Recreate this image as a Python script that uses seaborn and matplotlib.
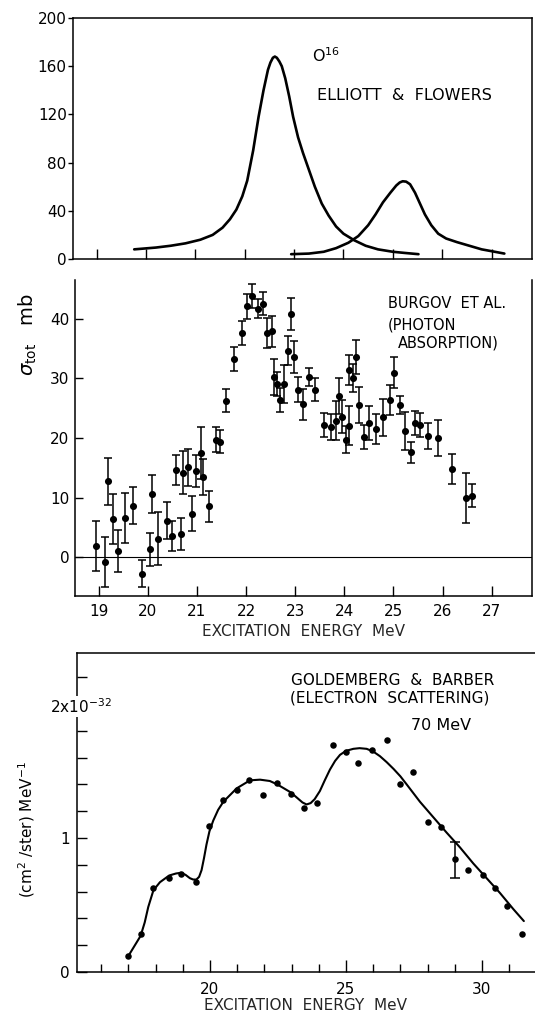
import numpy as np
import pandas as pd
import matplotlib
matplotlib.use("Agg")
import matplotlib.pyplot as plt
from matplotlib.ticker import MultipleLocator, FixedLocator
import seaborn as sns

# ---------------- data ----------------
# Top panel: Elliott & Flowers theoretical curves (E in MeV, sigma in mb)
ef1_e = [19.76, 20.2, 20.5, 20.8, 21.1, 21.35, 21.55, 21.7, 21.83, 21.95, 22.05, 22.17,
         22.28, 22.38, 22.47, 22.52, 22.57, 22.61, 22.65, 22.7, 22.75, 22.82, 22.9, 22.98, 23.08,
         23.18, 23.3, 23.42, 23.56, 23.7, 23.85, 24.0, 24.22, 24.45, 24.7, 25.0, 25.25, 25.52]
ef1_s = [8, 9.5, 11, 13, 16, 20, 26, 33, 41, 52, 65, 90,
         118, 140, 157, 163, 167, 168, 167, 164, 160, 150, 135, 118, 101,
         88, 74, 60, 46, 36, 27, 21, 15.5, 11, 8, 6, 5, 4]
ef2_e = [22.94, 23.3, 23.6, 23.85, 24.1, 24.3, 24.5, 24.65, 24.8, 24.95, 25.07, 25.14, 25.2,
         25.27, 25.35, 25.45, 25.55, 25.65, 25.78, 25.92, 26.08, 26.3, 26.55, 26.8, 27.0, 27.26]
ef2_s = [4, 4.5, 6, 9, 13.5, 19, 28, 37, 47, 55, 61, 63.5, 64.5,
         64.2, 62, 55, 46, 37, 28, 21, 17, 14, 11, 8, 6.5, 4.5]

# Middle panel: Burgov et al. photon absorption (E MeV, sigma_tot mb, error mb)
bur_e = [18.95, 19.13, 19.19, 19.29, 19.39, 19.54, 19.70, 19.89, 20.04, 20.09, 20.21, 20.39,
         20.50, 20.58, 20.68, 20.72, 20.82, 20.91, 20.99, 21.08, 21.12, 21.25, 21.38, 21.48,
         21.60, 21.75, 21.92, 22.03, 22.13, 22.25, 22.35, 22.42, 22.53, 22.56, 22.64, 22.69,
         22.77, 22.86, 22.92, 22.98, 23.06, 23.16, 23.28, 23.40, 23.59, 23.72, 23.83, 23.89,
         23.96, 24.03, 24.09, 24.10, 24.18, 24.23, 24.30, 24.40, 24.50, 24.64, 24.79, 24.94,
         25.02, 25.14, 25.24, 25.35, 25.44, 25.55, 25.71, 25.91, 26.20, 26.47, 26.60]
bur_s = [1.8, -0.9, 12.7, 6.4, 1.0, 6.5, 8.6, -2.8, 1.3, 10.6, 3.1, 6.1,
         3.5, 14.6, 3.8, 14.2, 15.1, 7.3, 14.4, 17.5, 13.4, 8.5, 19.7, 19.4,
         26.3, 33.3, 37.6, 42.1, 43.8, 41.7, 42.6, 37.6, 37.9, 30.3, 29.1, 26.4,
         29.0, 34.7, 40.9, 33.6, 28.1, 25.7, 30.2, 28.1, 22.2, 21.8, 22.9, 27.0,
         23.6, 19.7, 31.4, 22.1, 30.1, 33.6, 25.6, 20.2, 22.5, 21.5, 23.5, 26.4,
         31.0, 25.5, 21.1, 17.6, 22.5, 22.2, 20.3, 20.0, 14.8, 9.9, 10.3]
bur_err = [4.2, 4.2, 4.0, 4.2, 3.5, 4.2, 3.1, 2.3, 2.8, 3.2, 4.5, 3.1,
           2.5, 2.5, 2.7, 3.6, 3.1, 3.0, 2.7, 4.4, 3.0, 2.6, 2.1, 2.0,
           2.0, 2.0, 2.0, 2.1, 2.0, 1.6, 2.0, 2.5, 2.6, 3.0, 2.0, 2.0,
           3.2, 2.4, 2.7, 2.7, 2.1, 2.6, 1.5, 1.9, 2.0, 2.2, 3.3, 3.0,
           2.8, 2.3, 2.5, 3.2, 2.4, 2.8, 3.0, 2.0, 2.8, 2.5, 3.1, 2.5,
           2.6, 1.5, 3.2, 1.8, 2.0, 2.0, 2.2, 3.1, 2.5, 4.2, 1.9]

# Bottom panel: Goldemberg & Barber electron scattering, 70 MeV (units of 1e-32)
gb_e = [17.0, 17.45, 17.92, 18.49, 18.92, 19.49, 19.97, 20.49, 20.98, 21.45, 21.96, 22.47,
        22.97, 23.47, 23.94, 24.53, 24.99, 25.45, 25.94, 26.5, 26.99, 27.45, 28.0, 28.49,
        29.0, 29.5, 30.02, 30.49, 30.93, 31.49]
gb_v = [0.117, 0.286, 0.63, 0.70, 0.73, 0.67, 1.09, 1.28, 1.36, 1.43, 1.32, 1.41,
        1.33, 1.22, 1.26, 1.69, 1.64, 1.56, 1.66, 1.73, 1.40, 1.49, 1.12, 1.08,
        0.84, 0.76, 0.72, 0.63, 0.49, 0.28]
gb_err_e = [29.0]
gb_err_v = [0.835]
gb_err_d = [0.135]
gb_curve_e = [17.0, 17.45, 17.6, 17.73, 17.92, 18.16, 18.5, 18.75, 18.93, 19.1, 19.26, 19.38,
              19.5, 19.6, 19.69, 19.78, 19.87, 19.98, 20.12, 20.3,
              20.49, 20.98, 21.47, 21.84, 22.2, 22.47, 22.97, 23.2, 23.4, 23.55, 23.7, 23.85,
              24.04, 24.22, 24.41, 24.6, 24.78, 25.0, 25.27, 25.5, 25.76, 26.0, 26.25, 26.5,
              26.75, 27.0, 27.23, 27.72, 28.21, 28.7, 29.19, 29.68,
              30.17, 30.66, 31.15, 31.54]
gb_curve_v = [0.12, 0.27, 0.37, 0.485, 0.61, 0.67, 0.72, 0.735, 0.74, 0.725, 0.70, 0.69,
              0.69, 0.71, 0.76, 0.85, 0.95, 1.05, 1.13, 1.21,
              1.27, 1.37, 1.43, 1.435, 1.425, 1.40, 1.34, 1.30, 1.265, 1.25, 1.26, 1.29,
              1.35, 1.43, 1.51, 1.575, 1.62, 1.65, 1.665, 1.67, 1.665, 1.645, 1.61, 1.565,
              1.515, 1.46, 1.40, 1.27, 1.155, 1.04, 0.93, 0.81,
              0.70, 0.59, 0.47, 0.38]

top_yticks = [0, 40, 80, 120, 160, 200]
mid_yticks = [0, 10, 20, 30, 40]
mid_xticks = [19, 20, 21, 22, 23, 24, 25, 26, 27]
bot_xmajor = [20, 25, 30]

# ---------------- styling ----------------
sns.set_theme(style="ticks")
plt.rcParams['font.family'] = ['DejaVu Sans']
plt.rcParams['mathtext.fontset'] = 'dejavusans'
plt.rcParams['axes.linewidth'] = 1.1
plt.rcParams['axes.edgecolor'] = 'black'
plt.rcParams['xtick.color'] = 'black'
plt.rcParams['ytick.color'] = 'black'
plt.rcParams['text.color'] = 'black'

W, H = 535, 1014
fig = plt.figure(figsize=(W / 100, H / 100), dpi=100)
fig.patch.set_facecolor('white')

def box(l, t, r, b):
    return [l / W, 1 - b / H, (r - l) / W, (b - t) / H]

ax1 = fig.add_axes(box(73, 18, 532, 259))
ax2 = fig.add_axes(box(75, 280, 532, 596))
ax3 = fig.add_axes(box(77, 653, 535, 972))
for ax in (ax1, ax2, ax3):
    ax.set_facecolor('white')

TICKFS = 11

# ---------------- top panel ----------------
df1 = pd.DataFrame({'E': ef1_e, 's': ef1_s})
df2 = pd.DataFrame({'E': ef2_e, 's': ef2_s})
sns.lineplot(data=df1, x='E', y='s', ax=ax1, color='black', lw=1.9, sort=False, estimator=None)
sns.lineplot(data=df2, x='E', y='s', ax=ax1, color='black', lw=1.9, sort=False, estimator=None)
ax1.set_xlim(18.52, 27.82)
ax1.set_ylim(0, 200)
ax1.set_xticks(mid_xticks)
ax1.set_xticklabels([])
ax1.set_yticks(top_yticks)
ax1.set_yticklabels([str(v) for v in top_yticks], fontsize=TICKFS)
ax1.tick_params(axis='x', direction='in', length=7, width=1.0)
ax1.tick_params(axis='y', direction='out', length=3.5, width=1.0, pad=1)
ax1.set_xlabel('')
ax1.set_ylabel('')
ax1.text(0.52, 0.845, r'O$^{16}$', transform=ax1.transAxes, fontsize=11.5, va='center', ha='left')
ax1.text(0.532, 0.68, 'ELLIOTT  &  FLOWERS', transform=ax1.transAxes, fontsize=11.5,
         va='center', ha='left')

# ---------------- middle panel ----------------
dfb = pd.DataFrame({'E': bur_e, 's': bur_s, 'err': bur_err})
ax2.axhline(0, color='black', lw=0.8, zorder=1)
ax2.errorbar(dfb['E'], dfb['s'], yerr=dfb['err'], fmt='none', ecolor='black',
             elinewidth=1.1, capsize=3.2, capthick=1.1, zorder=2)
sns.scatterplot(data=dfb, x='E', y='s', ax=ax2, color='black', s=26, edgecolor='black',
                linewidth=0, zorder=3)
ax2.set_xlim(18.52, 27.82)
ax2.set_ylim(-6.55, 46.55)
ax2.spines['top'].set_visible(False)
ax2.set_xticks(mid_xticks)
ax2.set_xticklabels([str(v) for v in mid_xticks], fontsize=TICKFS)
ax2.set_yticks(mid_yticks)
ax2.set_yticklabels([str(v) for v in mid_yticks], fontsize=TICKFS)
ax2.tick_params(axis='x', direction='in', length=7, width=1.0, pad=6)
ax2.tick_params(axis='y', direction='in', length=5.5, width=1.0, pad=4)
ax2.set_xlabel('EXCITATION  ENERGY  MeV', fontsize=11, labelpad=3)
ax2.set_ylabel('')
fig.text(28 / W, 1 - 335 / H, r'$\sigma_{\rm tot}$   mb', rotation=90, fontsize=14,
         ha='center', va='center')
ax2.text(0.685, 0.927, 'BURGOV  ET AL.', transform=ax2.transAxes, fontsize=10.5, va='center')
ax2.text(0.685, 0.858, '(PHOTON', transform=ax2.transAxes, fontsize=10.5, va='center')
ax2.text(0.707, 0.80, 'ABSORPTION)', transform=ax2.transAxes, fontsize=10.5, va='center')

# ---------------- bottom panel ----------------
dfg = pd.DataFrame({'E': gb_e, 'v': gb_v})
dfc = pd.DataFrame({'E': gb_curve_e, 'v': gb_curve_v})
sns.lineplot(data=dfc, x='E', y='v', ax=ax3, color='black', lw=1.5, sort=False, estimator=None)
sns.scatterplot(data=dfg, x='E', y='v', ax=ax3, color='black', s=22, edgecolor='black',
                linewidth=0, zorder=3)
ax3.errorbar(gb_err_e, gb_err_v, yerr=gb_err_d, fmt='none', ecolor='black',
             elinewidth=1.1, capsize=3.5, capthick=1.1, zorder=2)
ax3.set_xlim(15.11, 31.95)
ax3.set_ylim(0, 2.38)
ax3.spines['right'].set_visible(False)
ax3.set_xticks(bot_xmajor)
ax3.set_xticklabels([str(v) for v in bot_xmajor], fontsize=TICKFS)
ax3.xaxis.set_minor_locator(FixedLocator(list(range(16, 32))))
ax3.set_yticks([0, 1, 2])
ax3.set_yticklabels(['0', '1', ''], fontsize=TICKFS)
ax3.yaxis.set_minor_locator(MultipleLocator(0.2))
ax3.tick_params(axis='x', which='major', direction='in', length=9, width=1.0, pad=7)
ax3.tick_params(axis='x', which='minor', direction='in', length=5.5, width=1.0)
ax3.tick_params(axis='y', which='major', direction='in', length=7, width=1.0, pad=5)
ax3.tick_params(axis='y', which='minor', direction='in', length=7, width=1.0)
ax3.set_xlabel('EXCITATION  ENERGY  MeV', fontsize=11, labelpad=1)
ax3.set_ylabel('')
ax3.text(0.009, 1.98, r'2x10$^{-32}$', transform=ax3.get_yaxis_transform(), fontsize=11,
         ha='center', va='center', clip_on=False, zorder=5,
         bbox=dict(facecolor='white', edgecolor='none', pad=0.5))
fig.text(27 / W, 1 - 830 / H, r'(cm$^2$ /ster) MeV$^{-1}$', rotation=90, fontsize=11,
         ha='center', va='center')
ax3.text(0.689, 0.915, 'GOLDEMBERG  &  BARBER', transform=ax3.transAxes, fontsize=11,
         ha='center', va='center')
ax3.text(0.683, 0.859, '(ELECTRON  SCATTERING)', transform=ax3.transAxes, fontsize=11,
         ha='center', va='center')
ax3.text(0.795, 0.774, '70 MeV', transform=ax3.transAxes, fontsize=11.5,
         ha='center', va='center')

fig.savefig('out.png', dpi=100, facecolor='white')
